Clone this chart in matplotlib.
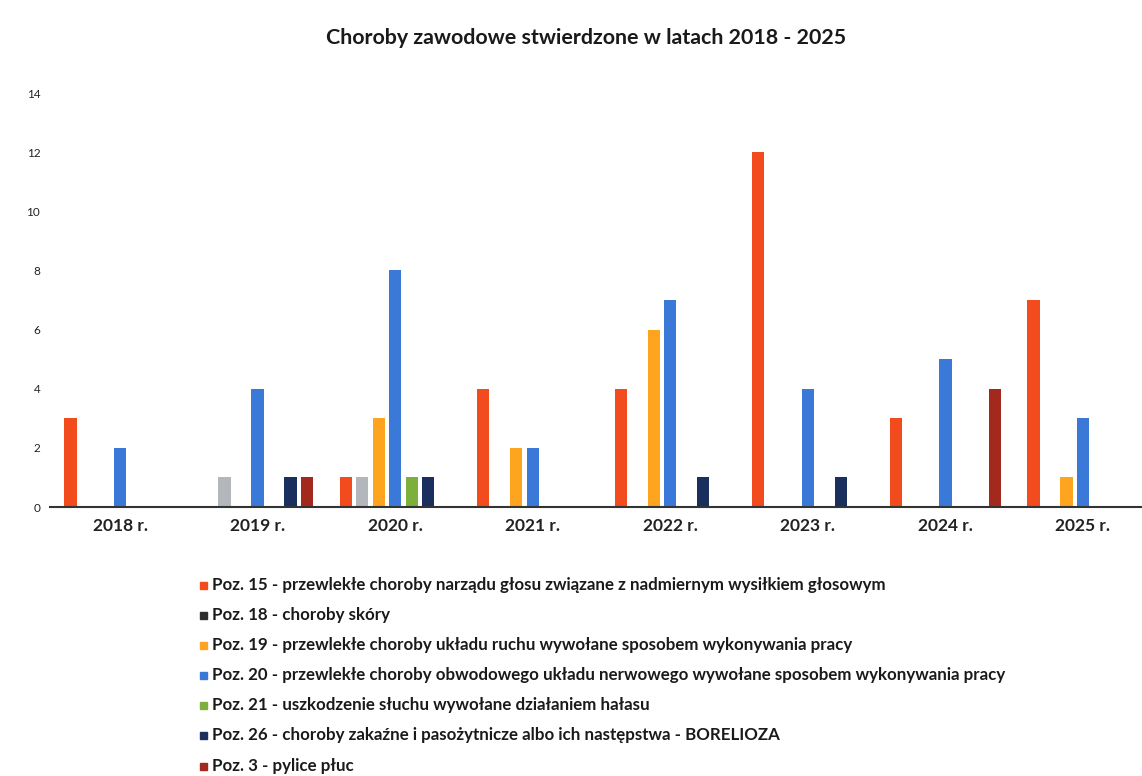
import numpy as np
import matplotlib
matplotlib.use('Agg')
import matplotlib.pyplot as plt
from matplotlib.patches import Rectangle

plt.rcParams['font.family'] = ['Lato', 'DejaVu Sans']

years = ['2018 r.', '2019 r.', '2020 r.', '2021 r.', '2022 r.', '2023 r.', '2024 r.', '2025 r.']

labels = [
    'Poz. 15 - przewlekłe choroby narządu głosu związane z nadmiernym wysiłkiem głosowym',
    'Poz. 18 - choroby skóry',
    'Poz. 19 - przewlekłe choroby układu ruchu wywołane sposobem wykonywania pracy',
    'Poz. 20 - przewlekłe choroby obwodowego układu nerwowego wywołane sposobem wykonywania pracy',
    'Poz. 21 - uszkodzenie słuchu wywołane działaniem hałasu',
    'Poz. 26 - choroby zakaźne i pasożytnicze albo ich następstwa - BORELIOZA',
    'Poz. 3 - pylice płuc',
]

poz15 = [3, 0, 1, 4, 4, 12, 3, 7]
poz18 = [0, 1, 1, 0, 0, 0, 0, 0]
poz19 = [0, 0, 3, 2, 6, 0, 0, 1]
poz20 = [2, 4, 8, 2, 7, 4, 5, 3]
poz21 = [0, 0, 1, 0, 0, 0, 0, 0]
poz26 = [0, 1, 1, 0, 1, 1, 0, 0]
poz3 = [0, 1, 0, 0, 0, 0, 4, 0]

series = [poz15, poz18, poz19, poz20, poz21, poz26, poz3]
colors = ['#f24b1e', '#b3b6bb', '#ffa41f', '#3b79d9', '#7daf3c', '#1b2f5e', '#a3291f']
legend_colors = ['#f24b1e', '#2e2e2e', '#ffa41f', '#3b79d9', '#7daf3c', '#1b2f5e', '#a3291f']

W, H = 1142, 776
fig = plt.figure(figsize=(W / 100, H / 100), dpi=100)
ax = fig.add_axes([50 / W, 1 - 507 / H, 1 - 50 / W, (507 - 93) / H])

x = np.arange(len(years))
slot = 0.12
for i, (vals, c) in enumerate(zip(series, colors)):
    ax.bar(x + (i - 3) * slot, vals, width=0.09, color=c, zorder=2)

ax.set_xlim(-0.51, 7.43)
ax.set_ylim(0, 14)
ax.set_yticks(range(0, 15, 2))
ax.set_xticks(x)
ax.set_xticklabels(years, fontsize=12.5, fontweight='bold', color='#222222')
ax.tick_params(axis='x', length=0, pad=8)
ax.tick_params(axis='y', length=0, pad=7, labelsize=8.5, labelcolor='#222222')
for s in ['top', 'right', 'left']:
    ax.spines[s].set_visible(False)
ax.spines['bottom'].set_color('#333333')
ax.spines['bottom'].set_linewidth(1.5)

fig.text(586 / W, 1 - 38 / H, 'Choroby zawodowe stwierdzone w latach 2018 - 2025',
         ha='center', va='center', fontsize=15.4, fontweight='bold', color='#1a1a1a')

# legend below the chart
row_y = [585, 615, 645, 675, 705, 735, 766]
for lab, c, yy in zip(labels, legend_colors, row_y):
    fig.patches.append(Rectangle((200 / W, 1 - (yy + 4) / H), 7 / W, 7 / H,
                                 transform=fig.transFigure, color=c))
    fig.text(212 / W, 1 - yy / H, lab, ha='left', va='center',
             fontsize=12.2, fontweight='bold', color='#1a1a1a')

fig.savefig('out.png', dpi=100)
